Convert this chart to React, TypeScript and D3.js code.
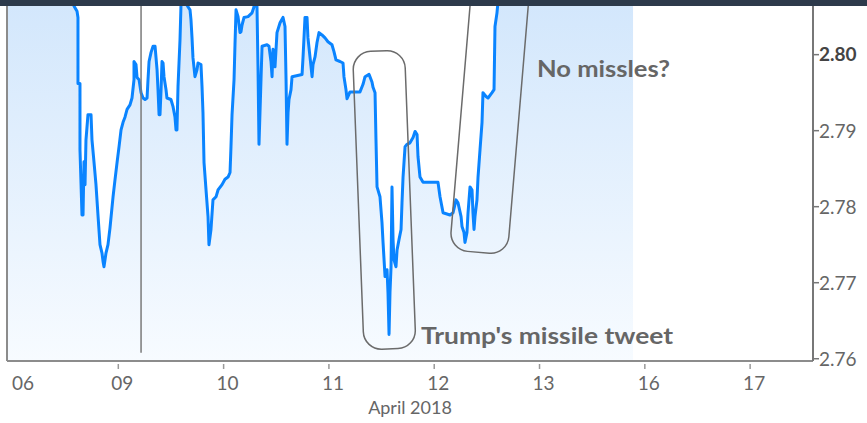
import * as d3 from 'd3';

// x = trading-day index (0 = Apr 06, 1 = Apr 09, ... weekends removed)
const dayLabels = ['06', '09', '10', '11', '12', '13', '16', '17'];
const dayIndex = [0, 1, 2, 3, 4, 5, 6, 7];
const yTicks = [2.76, 2.77, 2.78, 2.79, 2.8];

const times = [
	-0.057, 0.541, 0.579, 0.608, 0.617, 0.617, 0.636, 0.636, 0.655, 0.665, 0.674, 0.684, 0.693, 0.712, 0.741, 0.75,
	0.769, 0.788, 0.807, 0.826, 0.845, 0.855, 0.864, 0.883, 0.902, 0.921, 0.95, 0.969, 0.988, 1.007, 1.026, 1.045,
	1.064, 1.083, 1.111, 1.13, 1.149, 1.149, 1.168, 1.178, 1.197, 1.216, 1.235, 1.254, 1.273, 1.282, 1.292, 1.311,
	1.33, 1.349, 1.368, 1.377, 1.387, 1.396, 1.406, 1.415, 1.425, 1.434, 1.453, 1.462, 1.5, 1.519, 1.538, 1.548,
	1.557, 1.567, 1.586, 1.595, 1.614, 1.643, 1.652, 1.681, 1.69, 1.7, 1.709, 1.728, 1.747, 1.757, 1.785, 1.795,
	1.804, 1.814, 1.833, 1.852, 1.861, 1.88, 1.899, 1.928, 1.947, 1.985, 2.013, 2.042, 2.061, 2.07, 2.08, 2.099,
	2.108, 2.118, 2.137, 2.156, 2.165, 2.175, 2.194, 2.232, 2.27, 2.289, 2.308, 2.317, 2.327, 2.336, 2.355, 2.365,
	2.412, 2.431, 2.45, 2.46, 2.469, 2.488, 2.507, 2.536, 2.564, 2.583, 2.593, 2.602, 2.612, 2.621, 2.64, 2.65,
	2.745, 2.754, 2.773, 2.792, 2.801, 2.821, 2.84, 2.849, 2.868, 2.887, 2.906, 2.934, 2.963, 2.991, 3.029, 3.048,
	3.067, 3.105, 3.134, 3.143, 3.162, 3.172, 3.2, 3.295, 3.324, 3.343, 3.381, 3.409, 3.419, 3.438, 3.447, 3.457,
	3.485, 3.504, 3.514, 3.533, 3.552, 3.561, 3.571, 3.58, 3.59, 3.599, 3.609, 3.618, 3.637, 3.647, 3.666, 3.685,
	3.694, 3.704, 3.723, 3.742, 3.77, 3.799, 3.818, 3.837, 3.846, 3.865, 3.894, 4.036, 4.055, 4.084, 4.15, 4.179,
	4.207, 4.226, 4.255, 4.264, 4.283, 4.292, 4.311, 4.321, 4.34, 4.359, 4.368, 4.378, 4.387, 4.406, 4.416, 4.435,
	4.454, 4.463, 4.492, 4.511, 4.549, 4.568, 4.577, 4.596, 4.606, 4.8, 5.1, 5.4, 5.7, 5.888,
];

const yields = [
	2.813, 2.809, 2.8064, 2.8057, 2.8049, 2.7962, 2.7962, 2.7875, 2.7789, 2.7789, 2.7859, 2.7829, 2.7888, 2.7921, 2.7921, 2.7888,
	2.7859, 2.7829, 2.7789, 2.775, 2.7739, 2.7728, 2.7721, 2.7739, 2.775, 2.7772, 2.7813, 2.7836, 2.7858, 2.7879, 2.7901, 2.7911,
	2.7918, 2.7928, 2.7934, 2.7943, 2.7967, 2.7991, 2.7987, 2.797, 2.7967, 2.795, 2.7943, 2.7941, 2.7943, 2.7967, 2.7991, 2.8003,
	2.8011, 2.8011, 2.798, 2.7954, 2.7921, 2.7921, 2.7954, 2.7991, 2.7989, 2.7971, 2.7954, 2.7943, 2.7941, 2.7932, 2.7918, 2.7901,
	2.7901, 2.7958, 2.802, 2.8064, 2.8085, 2.808, 2.8065, 2.8059, 2.8046, 2.8022, 2.7996, 2.7971, 2.798, 2.7989, 2.7987, 2.7958,
	2.7924, 2.7858, 2.7822, 2.7787, 2.775, 2.777, 2.7809, 2.7813, 2.7822, 2.7829, 2.7836, 2.7839, 2.7845, 2.7879, 2.7921, 2.7967,
	2.8013, 2.8059, 2.805, 2.8029, 2.803, 2.8039, 2.8049, 2.805, 2.8055, 2.8063, 2.8075, 2.8063, 2.798, 2.7882, 2.7967, 2.8011,
	2.8013, 2.8011, 2.7991, 2.7971, 2.8007, 2.7984, 2.8029, 2.8042, 2.8049, 2.8037, 2.7967, 2.7882, 2.7924, 2.7941, 2.7954, 2.7971,
	2.7974, 2.7996, 2.8049, 2.8049, 2.8022, 2.7996, 2.7971, 2.7987, 2.7997, 2.8016, 2.8029, 2.8026, 2.8022, 2.8017, 2.8013, 2.8004,
	2.7993, 2.7991, 2.7989, 2.7971, 2.7954, 2.7942, 2.7951, 2.7951, 2.7961, 2.7971, 2.7974, 2.7964, 2.7957, 2.795, 2.7888, 2.7826,
	2.7813, 2.7779, 2.7753, 2.7708, 2.7717, 2.7687, 2.7632, 2.7687, 2.7721, 2.7826, 2.7757, 2.773, 2.7721, 2.7743, 2.7757, 2.777,
	2.7805, 2.7839, 2.7879, 2.7882, 2.7884, 2.7891, 2.7899, 2.7895, 2.7866, 2.7839, 2.7832, 2.7832, 2.7813, 2.7792, 2.7789, 2.7792,
	2.7809, 2.7805, 2.7787, 2.7774, 2.7766, 2.7753, 2.7766, 2.7792, 2.7826, 2.7822, 2.7792, 2.777, 2.7787, 2.7809, 2.7839, 2.7875,
	2.7911, 2.795, 2.7945, 2.7943, 2.795, 2.7954, 2.8037, 2.8055, 2.807, 2.811, 2.815, 2.813, 2.816, 2.814,
];

// event marker and annotations (data units)
const markerDay = 1.216;
const tweetBox = { day: 3.58, value: 2.7613, width: 52, height: 298, angle: -2.2 };
const noMissileBox = { day: 4.42, value: 2.774, width: 58, height: 420, angle: 4.8 };
const tweetLabel = { day: 3.875, value: 2.762, text: "Trump's missile tweet" };
const noMissileLabel = { day: 4.976, value: 2.797, text: 'No missles?' };

const W = 867;
const H = 423;
const left = 7;
const right = 813;
const top = 6;
const bottom = 361;

export default function App() {
	const x = d3.scaleLinear().domain([-0.057, 7.597]).range([left, right]);
	const y = d3.scaleLinear().domain([2.7597, 2.8064]).range([bottom, top]);

	const points = times.map((t, i) => [t, yields[i]] as [number, number]);

	const line = d3
		.line<[number, number]>()
		.x((d) => x(d[0]))
		.y((d) => y(d[1]));

	const area = d3
		.area<[number, number]>()
		.x((d) => x(d[0]))
		.y0(bottom)
		.y1((d) => y(d[1]));

	const box = (b: typeof tweetBox) => (
		<g transform={`translate(${x(b.day)},${y(b.value)}) rotate(${b.angle})`}>
			<rect
				x={-b.width / 2}
				y={-b.height}
				width={b.width}
				height={b.height}
				rx={18}
				fill="none"
				stroke="#6b6b6b"
				strokeWidth={1.5}
			/>
		</g>
	);

	return (
		<div style={{ position: 'absolute', left: 0, top: 0, width: W, height: H, background: '#fff' }}>
			<svg width={W} height={H} style={{ display: 'block' }} fontFamily="Lato, 'Open Sans', sans-serif">
				<defs>
					<linearGradient id="fillGrad" gradientUnits="userSpaceOnUse" x1={0} y1={top} x2={0} y2={bottom}>
						<stop offset="0" stopColor="#d3e7fc" />
						<stop offset="1" stopColor="#f7fbff" />
					</linearGradient>
					<clipPath id="plotClip">
						<rect x={left} y={top} width={right - left} height={bottom - top} />
					</clipPath>
				</defs>

				{/* series */}
				<g clipPath="url(#plotClip)">
					<path d={area(points) || ''} fill="url(#fillGrad)" />
					<path d={line(points) || ''} fill="none" stroke="#0a84ff" strokeWidth={3} strokeLinejoin="round" />
				</g>

				{/* marker line */}
				<line x1={x(markerDay)} x2={x(markerDay)} y1={top} y2={y(2.7608)} stroke="#7a7a7a" strokeWidth={1.5} />

				{/* frame */}
				<line x1={left} x2={left} y1={top} y2={bottom} stroke="#8c8c8c" strokeWidth={2} />
				<line x1={left} x2={right} y1={bottom} y2={bottom} stroke="#8c8c8c" strokeWidth={2} />
				<line x1={right} x2={right} y1={top} y2={bottom} stroke="#777" strokeWidth={2} />

				{/* right axis */}
				{yTicks.map((v) => (
					<g key={v}>
						<line x1={right} x2={right + 6} y1={y(v)} y2={y(v)} stroke="#777" strokeWidth={1.5} />
						<text
							x={right + 6}
							y={y(v)}
							dy="0.36em"
							fontSize={19}
							fill={v === 2.8 ? '#444' : '#666'}
							fontWeight={v === 2.8 ? 'bold' : 'normal'}
						>
							{v.toFixed(2)}
						</text>
					</g>
				))}

				{/* bottom axis */}
				{dayIndex.map((d, i) => (
					<g key={d}>
						{i > 0 && <line x1={x(d)} x2={x(d)} y1={bottom + 3} y2={bottom + 8} stroke="#999" strokeWidth={1.5} />}
						<text
							x={i === 0 ? x(d) - 1 : x(d) + 4}
							y={390}
							fontSize={19}
							fill="#666"
							textAnchor={i === 0 ? 'start' : 'middle'}
						>
							{dayLabels[i]}
						</text>
					</g>
				))}
				<text x={410} y={414} fontSize={18} fill="#666" textAnchor="middle">
					April 2018
				</text>

				{/* annotations */}
				{box(tweetBox)}
				{box(noMissileBox)}
				<text
					x={x(tweetLabel.day)}
					y={y(tweetLabel.value)}
					fontSize={23}
					fontWeight="bold"
					fill="#666"
					textLength={252}
					lengthAdjust="spacingAndGlyphs"
				>
					{tweetLabel.text}
				</text>
				<text
					x={x(noMissileLabel.day)}
					y={y(noMissileLabel.value)}
					fontSize={23}
					fontWeight="bold"
					fill="#666"
					textLength={133}
					lengthAdjust="spacingAndGlyphs"
				>
					{noMissileLabel.text}
				</text>

				{/* top dark strip */}
				<rect x={0} y={0} width={W} height={top} fill="#2d3a4b" />
			</svg>
		</div>
	);
}
